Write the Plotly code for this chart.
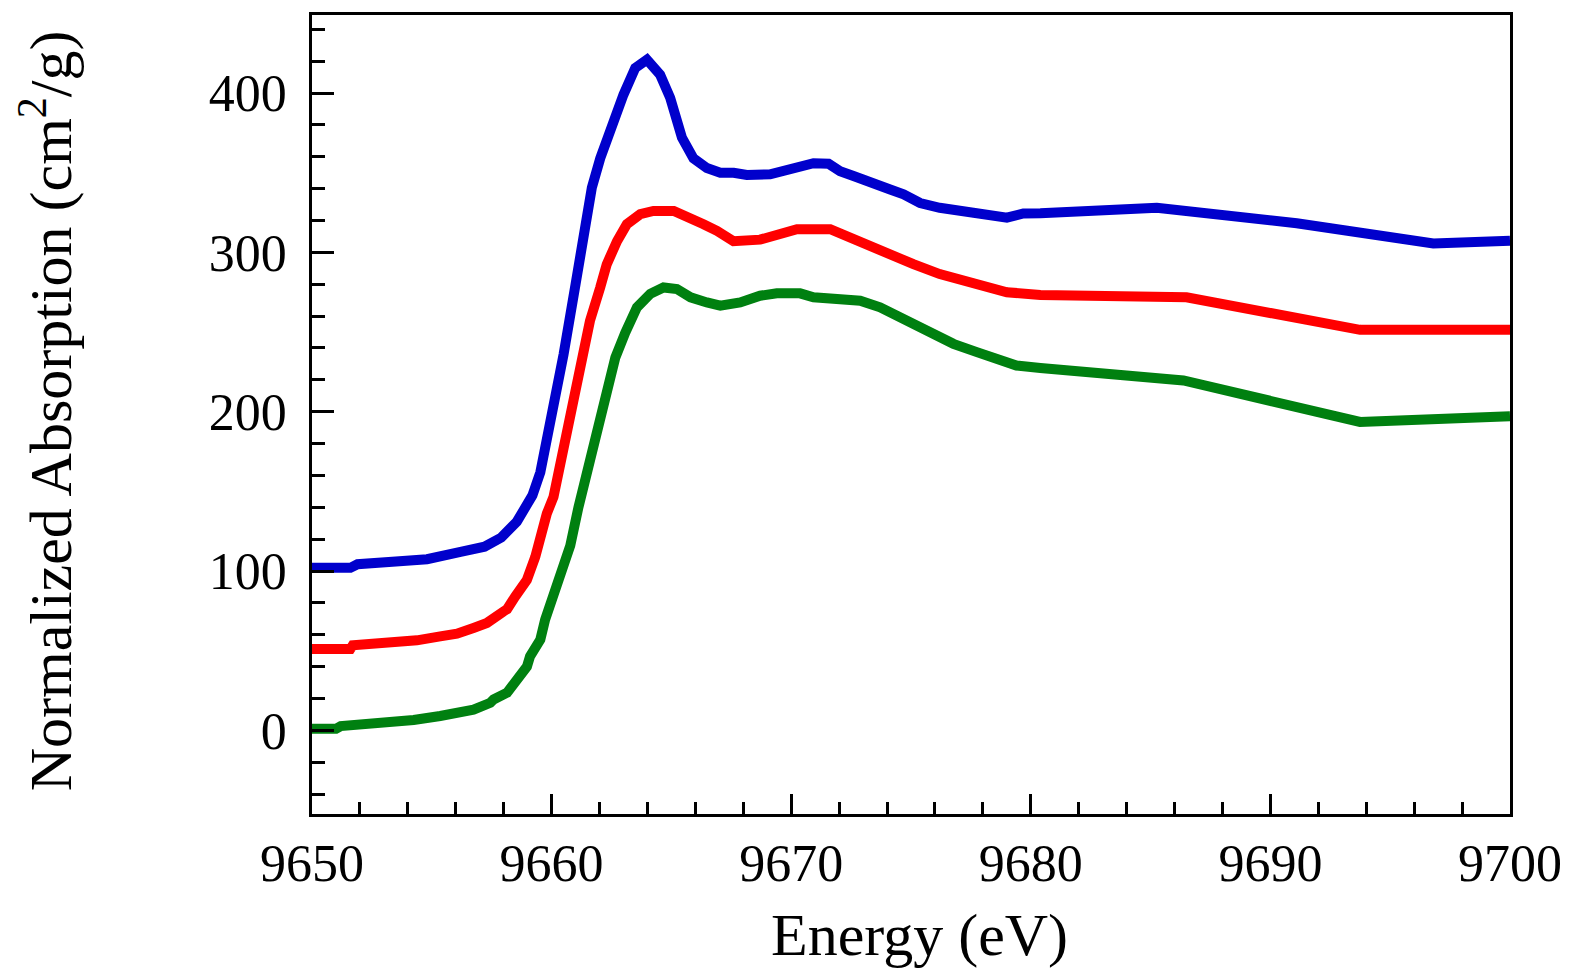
import plotly.graph_objects as go

# ---------------- data ----------------
energy_blue = [9650.0, 9651.6, 9651.9, 9653.3, 9653.5, 9654.8, 9655.5, 9656.2, 9657.2, 9657.9,
               9658.55, 9659.1, 9659.2, 9659.53, 9659.8, 9660.15, 9660.5, 9661.0,
               9661.4, 9661.68, 9662.03, 9662.52, 9663.0, 9663.49, 9663.98, 9664.53, 9664.95, 9665.44,
               9665.92, 9666.48, 9667.04, 9667.6, 9668.15, 9669.12, 9670.1, 9670.93, 9671.56, 9672.04,
               9672.6, 9673.43, 9674.13, 9674.69, 9675.38, 9676.2, 9677.19, 9678.0, 9679.0, 9679.69,
               9680.4, 9685.26, 9691.1, 9696.8, 9700.0]
absorption_blue = [102, 102, 104.3, 105, 106, 107.4, 109, 112, 115.3, 121,
                   131, 143.5, 147.5, 162, 182, 209, 236, 280,
                   322, 340.6, 359, 380, 399, 415.7, 421, 411.5, 397, 372,
                   359, 353, 350, 350, 348.6, 349, 353, 356, 355.6, 351,
                   348, 342.7, 339.5, 336.4, 331, 328, 325.6, 324, 321.8, 324.4,
                   324.6, 328, 318.3, 305.6, 307.3]

energy_red = [9650.0, 9651.6, 9651.7, 9653.3, 9654.38, 9655.35, 9656.05, 9656.74, 9657.02, 9657.3,
              9658.0, 9658.14, 9658.48, 9658.97, 9659.32, 9659.6, 9659.8, 9660.08, 9660.36, 9660.64,
              9661.06, 9661.4, 9661.6, 9662.03, 9662.3, 9662.73, 9663.14, 9663.7, 9664.25, 9665.1,
              9665.8, 9666.34, 9666.9, 9667.59, 9668.7, 9669.4, 9670.24, 9671.63, 9672.46, 9673.3,
              9674.13, 9675.1, 9676.2, 9677.33, 9678.17, 9679.0, 9680.4, 9686.5, 9693.74, 9700.0]
absorption_red = [51, 51, 53.4, 54.4, 56.5, 59, 60.7, 64.3, 65.3, 67.4,
                  74.7, 76, 84, 94.5, 109, 127.8, 136, 146.6, 167.5, 188,
                  217.5, 242, 257, 278, 292.5, 307, 317.7, 324, 326, 326,
                  322, 317.7, 313.5, 307, 308, 311.4, 314.6, 314.6, 309.3, 303,
                  297.9, 292.6, 286.4, 282, 278, 275, 273.3, 271.8, 251.4, 251.4]

energy_green = [9650.0, 9651.0, 9651.2, 9653.0, 9654.24, 9655.35, 9656.05, 9656.74, 9657.44, 9657.58,
                9658.14, 9658.41, 9658.7, 9658.97, 9659.1, 9659.39, 9659.53, 9659.73, 9660.08, 9660.5,
                9660.78, 9661.12, 9661.47, 9661.68, 9662.03, 9662.3, 9662.66, 9663.07, 9663.56, 9664.12,
                9664.67, 9665.23, 9665.8, 9666.48, 9667.04, 9667.87, 9668.7, 9669.4, 9670.37, 9670.93,
                9671.76, 9672.32, 9672.88, 9673.71, 9674.55, 9675.24, 9675.94, 9676.77, 9677.75, 9678.72,
                9679.4, 9680.4, 9686.37, 9693.74, 9700.0]
absorption_green = [1, 1, 2.7, 4.4, 6.5, 9, 10.4, 13, 17.3, 19.4,
                    23.6, 29.8, 34, 40, 46.5, 54.9, 57, 69.5, 85, 102,
                    116, 140, 161, 178, 196.7, 215.5, 234, 249.5, 265.5, 274,
                    278, 277, 271.8, 268.6, 266.6, 268.6, 272.8, 274.3, 274.3, 271.8,
                    271.4, 269.7, 269.7, 265.5, 259.3, 254, 248.8, 242.6, 237.4, 232,
                    229, 227.4, 219.6, 193.6, 197.1]

x_tick_values = [9650, 9660, 9670, 9680, 9690, 9700]
x_tick_labels = ["9650", "9660", "9670", "9680", "9690", "9700"]
y_tick_values = [0, 100, 200, 300, 400]
y_tick_labels = ["0", "100", "200", "300", "400"]

x_title = "Energy (eV)"
y_title = "Normalized Absorption (cm<sup>2</sup>/g)"

# ---------------- figure ----------------
FONT = "Liberation Serif, Times New Roman, serif"
LW = 10

fig = go.Figure()
for xs, ys, col in [(energy_blue, absorption_blue, "#0000CC"),
                    (energy_red, absorption_red, "#FF0000"),
                    (energy_green, absorption_green, "#008010")]:
    fig.add_trace(go.Scatter(x=xs, y=ys, mode="lines",
                             line=dict(color=col, width=LW),
                             showlegend=False, hoverinfo="skip"))

axis_common = dict(showline=True, linecolor="black", linewidth=2.5, mirror=True,
                   showgrid=False, zeroline=False, ticks="inside",
                   tickcolor="black", tickwidth=2.5,
                   tickfont=dict(family=FONT, size=52, color="black"))

fig.update_xaxes(range=[9650, 9700], tickvals=x_tick_values, ticktext=x_tick_labels,
                 ticklen=20,
                 minor=dict(dtick=2, tick0=9650, ticks="inside", ticklen=12,
                            tickwidth=2.5, tickcolor="black", showgrid=False),
                 ticklabelstandoff=2,
                 **axis_common)
fig.update_yaxes(range=[-52.5, 449], tickvals=y_tick_values, ticktext=y_tick_labels,
                 ticklen=22,
                 minor=dict(dtick=20, tick0=0, ticks="inside", ticklen=13,
                            tickwidth=2.5, tickcolor="black", showgrid=False),
                 ticklabelstandoff=12,
                 **axis_common)

fig.add_annotation(text=x_title, xref="paper", yref="paper", x=0.507, y=-0.151,
                   xanchor="center", yanchor="middle", showarrow=False,
                   font=dict(family=FONT, size=60, color="black"))
fig.add_annotation(text=y_title, xref="paper", yref="paper", x=-0.222, y=0.504,
                   xanchor="center", yanchor="middle", showarrow=False, textangle=-90,
                   font=dict(family=FONT, size=60, color="black"))

# page body has an 8px margin: size/margins compensate so the plot sits where the reference does
fig.update_layout(width=1558, height=964,
                  margin=dict(l=304, r=56, t=4, b=158),
                  paper_bgcolor="white", plot_bgcolor="white")

fig.write_html("out.html")
